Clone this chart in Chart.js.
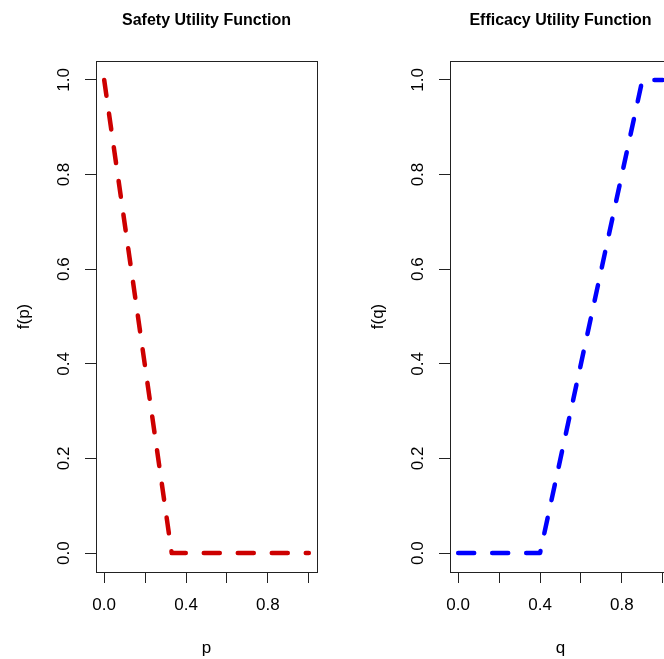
<!DOCTYPE html>
<html>
<head>
<meta charset="utf-8">
<title>Utility Functions</title>
<script src="https://cdn.jsdelivr.net/npm/chart.js@4/dist/chart.umd.min.js"></script>
<style>
  html, body { margin: 0; padding: 0; background: #fff; overflow: hidden; width: 664px; height: 659px; }
  canvas { position: absolute; top: 0; }
  #safety { left: 0; }
  #efficacy { left: 332px; }
</style>
</head>
<body>
<canvas id="safety" width="332" height="659"></canvas>
<canvas id="efficacy" width="348" height="659"></canvas>
<script>
// values
const safetyP = [0, 0.33, 1];
const safetyF = [1, 0, 0];
const efficacyQ = [0, 0.4, 0.9, 1];
const efficacyF = [0, 0, 1, 1];

const xTicks = [0, 0.2, 0.4, 0.6, 0.8, 1];
const xTickLabels = ["0.0", "", "0.4", "", "0.8", ""];
const yTicks = [0, 0.2, 0.4, 0.6, 0.8, 1];
const yTickLabels = ["0.0", "0.2", "0.4", "0.6", "0.8", "1.0"];

const FONT = "'Liberation Sans', Arial, Helvetica, sans-serif";
const AXIS = "#222";

// R style box round the plot region
const boxPlugin = {
  id: "plotBox",
  afterDraw(chart) {
    const { ctx, chartArea: a } = chart;
    ctx.save();
    ctx.strokeStyle = AXIS;
    ctx.lineWidth = 1;
    ctx.strokeRect(
      Math.round(a.left) + 0.5,
      Math.round(a.top) + 0.5,
      Math.round(a.right - a.left),
      Math.round(a.bottom - a.top),
    );
    ctx.restore();
  },
};

function toPoints(xs, ys) {
  return xs.map((x, i) => ({ x: x, y: ys[i] }));
}

function makePanel(canvasId, cfg) {
  return new Chart(document.getElementById(canvasId), {
    type: "scatter",
    data: {
      datasets: [
        {
          data: toPoints(cfg.xs, cfg.ys),
          showLine: true,
          borderColor: cfg.color,
          borderWidth: 4.5,
          borderDash: [16, 18],
          borderCapStyle: "round",
          borderJoinStyle: "round",
          pointRadius: 0,
          pointHoverRadius: 0,
          tension: 0,
        },
      ],
    },
    options: {
      responsive: false,
      animation: false,
      events: [],
      layout: { padding: { left: cfg.padLeft, right: cfg.padRight, top: 0, bottom: 0 } },
      plugins: {
        legend: { display: false },
        tooltip: { enabled: false },
        title: {
          display: true,
          text: cfg.title,
          fullSize: false,
          color: "#000",
          font: { family: FONT, size: 16, weight: "bold", lineHeight: 1.2 },
          padding: { top: 11, bottom: 30.8 },
        },
      },
      scales: {
        x: {
          type: "linear",
          min: -0.04,
          max: 1.04,
          afterBuildTicks: (s) => { s.ticks = xTicks.map((v) => ({ value: v })); },
          afterFit: (s) => { s.height = 87; },
          border: { display: false },
          grid: { drawOnChartArea: false, drawTicks: true, tickLength: 11, color: AXIS },
          ticks: {
            autoSkip: false,
            maxRotation: 0,
            minRotation: 0,
            padding: 12,
            color: "#000",
            font: { family: FONT, size: 17 },
            callback: (v, i) => xTickLabels[i],
          },
          title: {
            display: true,
            text: cfg.xLabel,
            color: "#000",
            font: { family: FONT, size: 17 },
            padding: { top: 0, bottom: 0 },
          },
        },
        y: {
          type: "linear",
          min: -0.04,
          max: 1.04,
          afterBuildTicks: (s) => { s.ticks = yTicks.map((v) => ({ value: v })); },
          afterFit: (s) => { s.width = 96; },
          border: { display: false },
          grid: { drawOnChartArea: false, drawTicks: true, tickLength: 11, color: AXIS },
          ticks: {
            minRotation: 90,
            maxRotation: 90,
            crossAlign: "center",
            padding: 9,
            color: "#000",
            font: { family: FONT, size: 17 },
            callback: (v, i) => yTickLabels[i],
          },
          title: {
            display: true,
            text: cfg.yLabel,
            color: "#000",
            font: { family: FONT, size: 17 },
            padding: { top: 14, bottom: 0 },
          },
        },
      },
    },
    plugins: [boxPlugin],
  });
}

makePanel("safety", {
  title: "Safety Utility Function",
  xs: safetyP,
  ys: safetyF,
  color: "#CD0000",
  xLabel: "p",
  yLabel: "f(p)",
  padLeft: 0,
  padRight: 15,
});

makePanel("efficacy", {
  title: "Efficacy Utility Function",
  xs: efficacyQ,
  ys: efficacyF,
  color: "#0000FF",
  xLabel: "q",
  yLabel: "f(q)",
  padLeft: 22,
  padRight: 9,
});
</script>
</body>
</html>
